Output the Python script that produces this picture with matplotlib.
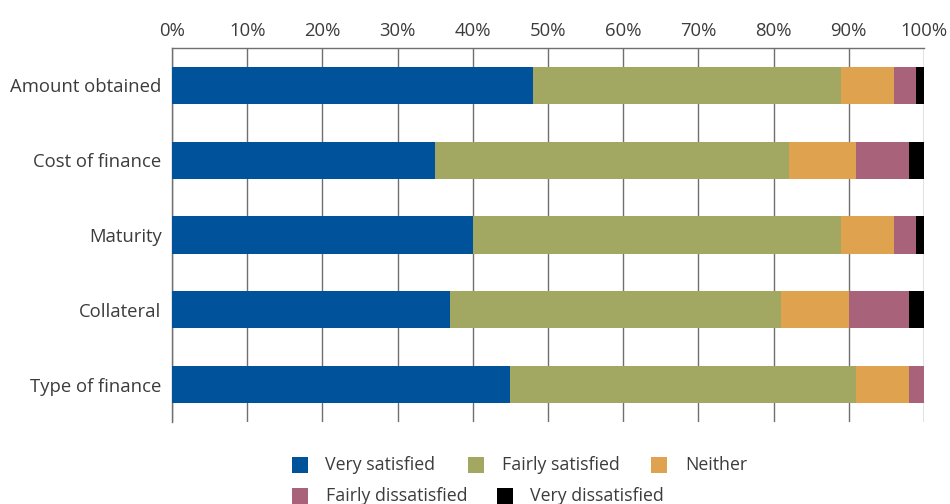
import matplotlib
matplotlib.use("Agg")
import matplotlib.pyplot as plt
from matplotlib.patches import Rectangle
import numpy as np

plt.rcParams['font.family'] = ['Open Sans', 'DejaVu Sans']

categories = ["Amount obtained", "Cost of finance", "Maturity", "Collateral", "Type of finance"]
series_names = ["Very satisfied", "Fairly satisfied", "Neither", "Fairly dissatisfied", "Very dissatisfied"]
very_satisfied = [48, 35, 40, 37, 45]
fairly_satisfied = [41, 47, 49, 44, 46]
neither = [7, 9, 7, 9, 7]
fairly_dissatisfied = [3, 7, 3, 8, 2]
very_dissatisfied = [1, 2, 1, 2, 0]
tick_values = [0, 10, 20, 30, 40, 50, 60, 70, 80, 90, 100]

colors = ["#00529b", "#a2a761", "#dfa350", "#a8627a", "#000000"]
series = [very_satisfied, fairly_satisfied, neither, fairly_dissatisfied, very_dissatisfied]
text_color = "#3c3c3c"
fs = 13.3

W, H = 950, 504
fig = plt.figure(figsize=(W / 100, H / 100), dpi=100)
ax = fig.add_axes([172 / W, 1 - 422 / H, (924 - 172) / W, (422 - 48) / H])

y = np.arange(len(categories))
left = np.zeros(len(categories))
for vals, col in zip(series, colors):
    ax.barh(y, vals, left=left, height=0.5, color=col, zorder=3)
    left += np.array(vals)

ax.set_xlim(0, 100)
ax.set_ylim(len(categories) - 0.5, -0.5)
ax.set_yticks(y)
ax.set_yticklabels(categories)
ax.set_xticks(tick_values)
ax.set_xticklabels([f"{v}%" for v in tick_values])
ax.xaxis.tick_top()
ax.tick_params(axis='both', length=0, labelsize=fs, colors=text_color)
ax.tick_params(axis='x', pad=6)
ax.tick_params(axis='y', pad=7.5)

ax.grid(axis='x', color="#6f6f6f", linewidth=1.0, zorder=0)
ax.set_axisbelow(True)
for side in ["bottom", "right"]:
    ax.spines[side].set_visible(False)
for side in ["top", "left"]:
    ax.spines[side].set_color("#6f6f6f")
    ax.spines[side].set_linewidth(1.0)

# Legend laid out in two rows, as a flowing key
rows = [
    [(0, 292, 325), (1, 468, 502), (2, 651, 685)],
    [(3, 292, 326), (4, 497, 530)],
]
row_y = [465, 496]
sq = 16
for r, entries in enumerate(rows):
    cy = row_y[r]
    for idx, sx, tx in entries:
        fig.add_artist(Rectangle((sx / W, 1 - (cy + sq / 2) / H), sq / W, sq / H,
                                 transform=fig.transFigure, facecolor=colors[idx],
                                 edgecolor='none'))
        fig.text(tx / W, 1 - cy / H, series_names[idx], fontsize=12.8,
                 color=text_color, va='center', ha='left')

fig.savefig("out.png", dpi=100)
